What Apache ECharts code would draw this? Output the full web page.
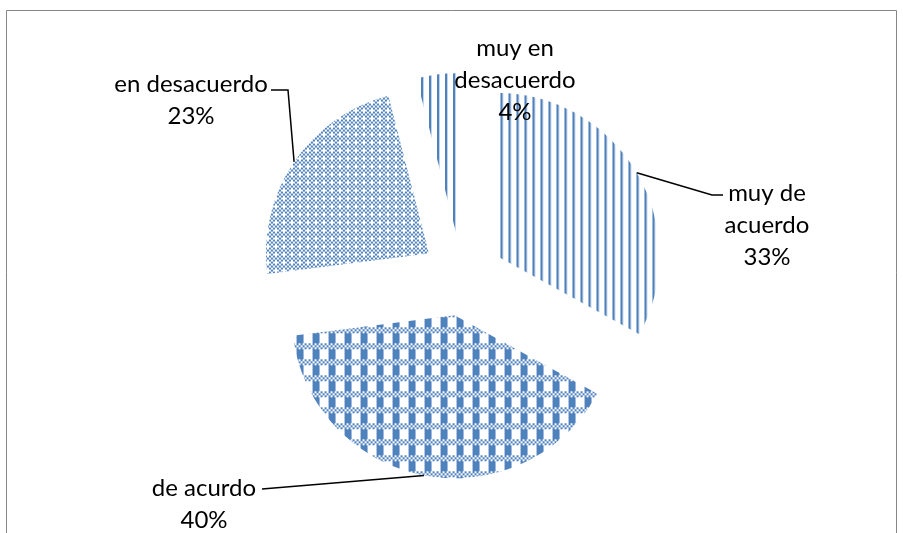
<!DOCTYPE html>
<html>
<head>
<meta charset="utf-8">
<script src="https://cdn.jsdelivr.net/npm/echarts@6/dist/echarts.min.js"></script>
<style>
  html, body { margin: 0; padding: 0; background: #ffffff; }
  #chart { width: 903px; height: 533px; }
</style>
</head>
<body>
<div id="chart"></div>
<script>
// Survey answers and their shares (percent)
const categories = ['muy de\nacuerdo', 'de acurdo', 'en desacuerdo', 'muy en\ndesacuerdo'];
const shares = [33, 40, 23, 4];

const BLUE = '#4f81bd';
const CENTER = [462, 276];
const RADIUS = 163;
const EXPLODE = 40;

// Where each label sits (centre x, top y) and the elbow points of its leader line
const labelSpots = [
  { x: 767, y: 177, line: [[712, 195], [723, 195]] },
  { x: 204, y: 472, line: [[262, 489]] },
  { x: 191, y: 68,  line: [[288, 90], [271, 90]] },
  { x: 515, y: 32,  line: null }
];

// Small repeating bitmaps used as fill patterns
function tile(w, h, draw) {
  const c = document.createElement('canvas');
  c.width = w; c.height = h;
  const g = c.getContext('2d');
  g.fillStyle = BLUE;
  draw(g);
  return { image: c, repeat: 'repeat' };
}
const stripes = tile(8, 8, g => {
  g.fillRect(2, 0, 2, 8);
  g.globalAlpha = 0.35;
  g.fillRect(4, 0, 1, 8);
});
const dotted = tile(8, 8, g => {
  for (let r = 0; r < 4; r++)
    for (let c = 0; c < 4; c++)
      if ((r + c) % 2 === 0 && !(r === 2 && c === 2)) g.fillRect(c * 2, r * 2, 2, 2);
});
const plaid = tile(16, 16, g => {
  for (let r = 0; r < 3; r++)
    for (let c = 0; c < 8; c++)
      if ((r + c) % 2 === 0) g.fillRect(c * 2, r * 2, 2, 2);
  g.fillRect(0, 6, 7, 10);
});
const fills = [stripes, plaid, dotted, stripes];

const total = shares.reduce((a, b) => a + b, 0);

// Point on the outer rim of an exploded slice, at the middle of its arc
function rimPoint(i) {
  let before = 0;
  for (let k = 0; k < i; k++) before += shares[k];
  const mid = ((before + shares[i] / 2) / total) * 2 * Math.PI;
  const d = EXPLODE + RADIUS;
  return [CENTER[0] + d * Math.sin(mid), CENTER[1] - d * Math.cos(mid)];
}

const pieBase = {
  type: 'pie',
  center: CENTER,
  radius: RADIUS,
  startAngle: 90,
  clockwise: true,
  avoidLabelOverlap: false,
  emphasis: { disabled: true }
};

const chart = echarts.init(document.getElementById('chart'), null, { renderer: 'canvas' });

chart.setOption({
  animation: false,
  backgroundColor: '#ffffff',
  graphic: [{
    type: 'rect',
    silent: true,
    shape: { x: 6.5, y: 10.5, width: 890, height: 540 },
    style: { fill: 'none', stroke: '#868686', lineWidth: 1 }
  }],
  series: [
    // exploded, pattern-filled slices
    Object.assign({}, pieBase, {
      selectedMode: 'multiple',
      selectedOffset: EXPLODE,
      itemStyle: { borderWidth: 0 },
      label: { show: false },
      labelLine: { show: false },
      data: categories.map((name, i) => ({
        name: name,
        value: shares[i],
        selected: true,
        itemStyle: { color: fills[i] }
      }))
    }),
    // same data again, invisible, carrying the labels and leader lines
    Object.assign({}, pieBase, {
      silent: true,
      itemStyle: { color: 'rgba(0,0,0,0)', borderWidth: 0 },
      label: {
        show: true,
        position: 'outside',
        color: '#000000',
        fontFamily: 'Lato',
        fontSize: 24,
        lineHeight: 32,
        formatter: p => p.name + '\n' + Math.round(p.percent) + '%'
      },
      labelLine: {
        show: true,
        lineStyle: { color: '#000000', width: 1.5 }
      },
      labelLayout: p => {
        const spot = labelSpots[p.dataIndex];
        const out = { x: spot.x, y: spot.y, align: 'center', verticalAlign: 'top' };
        if (spot.line) out.labelLinePoints = [rimPoint(p.dataIndex)].concat(spot.line);
        return out;
      },
      data: categories.map((name, i) => ({
        name: name,
        value: shares[i],
        labelLine: { show: labelSpots[i].line !== null }
      }))
    })
  ]
});
</script>
</body>
</html>
